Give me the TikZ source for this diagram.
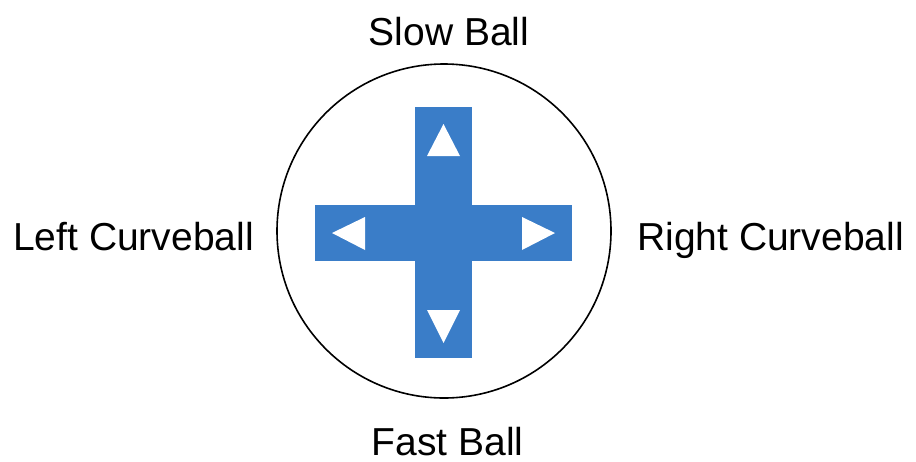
\documentclass[tikz,border=0pt]{standalone}
\usepackage{fontspec}
\setmainfont{Liberation Sans}
\definecolor{padblue}{RGB}{58,125,200}
\begin{document}
\begin{tikzpicture}[x=1pt,y=-1pt,
  lbl/.style={inner sep=0pt,font=\fontsize{39}{47}\selectfont},
  bar/.style={fill=padblue,draw=none},
  tri/.style={fill=white,draw=none}]
\useasboundingbox (0,0) rectangle (916,461);
\fill[white] (0,0) rectangle (916,461);
\node[draw=black,line width=1.6pt,circle,minimum size=334pt,inner sep=0pt] (ring) at (444,231) {};
\fill[bar] (415,107) rectangle (472,358);
\fill[bar] (315,205) rectangle (572,261);
\fill[tri] (443.5,124) -- (460,156) -- (427,156) -- cycle;
\fill[tri] (443.5,343) -- (460,310) -- (427,310) -- cycle;
\fill[tri] (332,233) -- (365,217) -- (365,250) -- cycle;
\fill[tri] (555,233) -- (522,217) -- (522,250) -- cycle;
\node[lbl,anchor=base] (slow) at (449,45) {Slow Ball};
\node[lbl,anchor=base] (fast) at (447.5,455) {Fast Ball};
\node[lbl,anchor=base west] (left) at (13,250) {Left Curveball};
\node[lbl,anchor=base west] (right) at (637,250) {Right Curveball};
\end{tikzpicture}
\end{document}
